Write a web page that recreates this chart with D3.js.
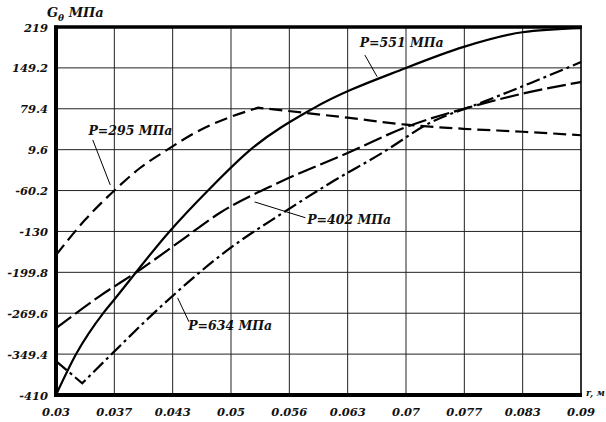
<!DOCTYPE html>
<html>
<head>
<meta charset="utf-8">
<script src="https://cdn.jsdelivr.net/npm/d3@7"></script>
<style>
  body { margin: 0; background: #fff; }
  svg text { font-family: "DejaVu Serif", serif; font-weight: bold; font-style: italic; fill: #111; }
</style>
</head>
<body>
<div id="chart"></div>
<script>
// tick labels as printed on the chart
const xTickLabels = ["0.03", "0.037", "0.043", "0.05", "0.056", "0.063", "0.07", "0.077", "0.083", "0.09"];
const yTickLabels = ["-410", "-349.4", "-269.6", "-199.8", "-130", "-60.2", "9.6", "79.4", "149.2", "219"];

// series: [r, G]
const p551 = [[0.03, -410], [0.0323, -340], [0.0354, -270], [0.0366, -248], [0.043, -130], [0.0474, -60],
  [0.0522, 9], [0.0593, 79], [0.07, 149], [0.0766, 185], [0.0833, 210], [0.09, 217]];
const p295a = [[0.03, -171], [0.0333, -111], [0.0367, -60], [0.0396, -22], [0.0427, 9], [0.0465, 43],
  [0.0499, 65], [0.0531, 81]];
const p295b = [[0.0531, 81], [0.0633, 64], [0.07, 52], [0.0766, 45], [0.0833, 40], [0.09, 34]];
const p402 = [[0.03, -296], [0.035, -241], [0.0396, -196], [0.0442, -147], [0.0487, -99], [0.0556, -46],
  [0.0634, 4], [0.07, 48], [0.0773, 82], [0.0842, 108], [0.09, 125]];
const p634a = [[0.03, -352], [0.033, -390]];
const p634b = [[0.033, -390], [0.0365, -338], [0.0419, -260], [0.0499, -159], [0.0559, -99], [0.0613, -48],
  [0.0674, 5], [0.0727, 55], [0.0785, 89], [0.0842, 123], [0.09, 159]];

const labels = [
  { text: "P=551 МПа", x: 0.0647, y: 185, lx1: 0.0653, ly1: 171, lx2: 0.0667, ly2: 134 },
  { text: "P=295 МПа", x: 0.0337, y: 34, lx1: 0.0342, ly1: 26, lx2: 0.0362, ly2: -51 },
  { text: "P=402 МПа", x: 0.0587, y: -118, lx1: 0.0527, ly1: -80, lx2: 0.0585, ly2: -107 },
  { text: "P=634 МПа", x: 0.0451, y: -299, lx1: 0.0439, ly1: -244, lx2: 0.0452, ly2: -285 }
];

const W = 606, H = 422;
const svg = d3.select("#chart").append("svg").attr("width", W).attr("height", H);

const x = d3.scaleLinear().domain([0.03, 0.09]).range([56, 581]);
const y = d3.scaleLinear().domain([-410, 219]).range([395, 27]);

const xt = xTickLabels.map((d, i) => 0.03 + i * 0.06 / 9);
const yt = yTickLabels.map((d, i) => -410 + i * 629 / 9);

// grid
svg.append("g").selectAll("line").data(xt.slice(1, -1)).enter().append("line")
  .attr("x1", d => x(d)).attr("x2", d => x(d)).attr("y1", y(-410)).attr("y2", y(219))
  .attr("stroke", "#222").attr("stroke-width", 1);
svg.append("g").selectAll("line").data(yt.slice(1, -1)).enter().append("line")
  .attr("y1", d => y(d)).attr("y2", d => y(d)).attr("x1", x(0.03)).attr("x2", x(0.09))
  .attr("stroke", "#222").attr("stroke-width", 1);

// frame
svg.append("line").attr("x1", x(0.09)).attr("x2", x(0.09)).attr("y1", y(219)).attr("y2", y(-410))
  .attr("stroke", "#000").attr("stroke-width", 1.6);
svg.append("line").attr("x1", x(0.03) - 2).attr("x2", x(0.09) + 1).attr("y1", y(219)).attr("y2", y(219))
  .attr("stroke", "#000").attr("stroke-width", 3.5);
svg.append("line").attr("x1", x(0.03) - 2).attr("x2", x(0.09) + 1).attr("y1", y(-410)).attr("y2", y(-410))
  .attr("stroke", "#000").attr("stroke-width", 4);
svg.append("line").attr("x1", x(0.03)).attr("x2", x(0.03)).attr("y1", y(219) - 1.5).attr("y2", y(-410) + 2)
  .attr("stroke", "#000").attr("stroke-width", 4);

// tick labels
svg.append("g").selectAll("text").data(yt).enter().append("text")
  .attr("x", 48).attr("y", d => y(d) + 4.5).attr("text-anchor", "end")
  .style("font-size", "11.5px").text((d, i) => yTickLabels[i]);
svg.append("g").selectAll("text").data(xt).enter().append("text")
  .attr("x", d => x(d)).attr("y", 416).attr("text-anchor", "middle")
  .style("font-size", "11.5px").text((d, i) => xTickLabels[i]);

// axis titles
const yt1 = svg.append("text").attr("x", 47).attr("y", 17).style("font-size", "13px");
yt1.append("tspan").text("G");
yt1.append("tspan").attr("dy", 4).style("font-size", "9px").text("θ");
yt1.append("tspan").attr("dy", -4).text(" МПа");
svg.append("text").attr("x", 586).attr("y", 396).style("font-size", "9px").text("r, м");

// curves
const line = d3.line().x(d => x(d[0])).y(d => y(d[1])).curve(d3.curveMonotoneX);
const joined = (a, b) => line(a) + line(b).replace(/^M/, "L");

const series = [
  { d: line(p551), dash: null },
  { d: joined(p295a, p295b), dash: "13 6" },
  { d: line(p402), dash: "19 5" },
  { d: joined(p634a, p634b), dash: "14 4 3 4" }
];
svg.append("g").selectAll("path").data(series).enter().append("path")
  .attr("d", d => d.d).attr("fill", "none").attr("stroke", "#000").attr("stroke-width", 2.2)
  .attr("stroke-dasharray", d => d.dash);

// annotations
const ann = svg.append("g").selectAll("g").data(labels).enter().append("g");
ann.append("line")
  .attr("x1", d => x(d.lx1)).attr("y1", d => y(d.ly1)).attr("x2", d => x(d.lx2)).attr("y2", d => y(d.ly2))
  .attr("stroke", "#000").attr("stroke-width", 1);
ann.append("text").attr("x", d => x(d.x)).attr("y", d => y(d.y))
  .style("font-size", "12.5px").text(d => d.text);
</script>
</body>
</html>
